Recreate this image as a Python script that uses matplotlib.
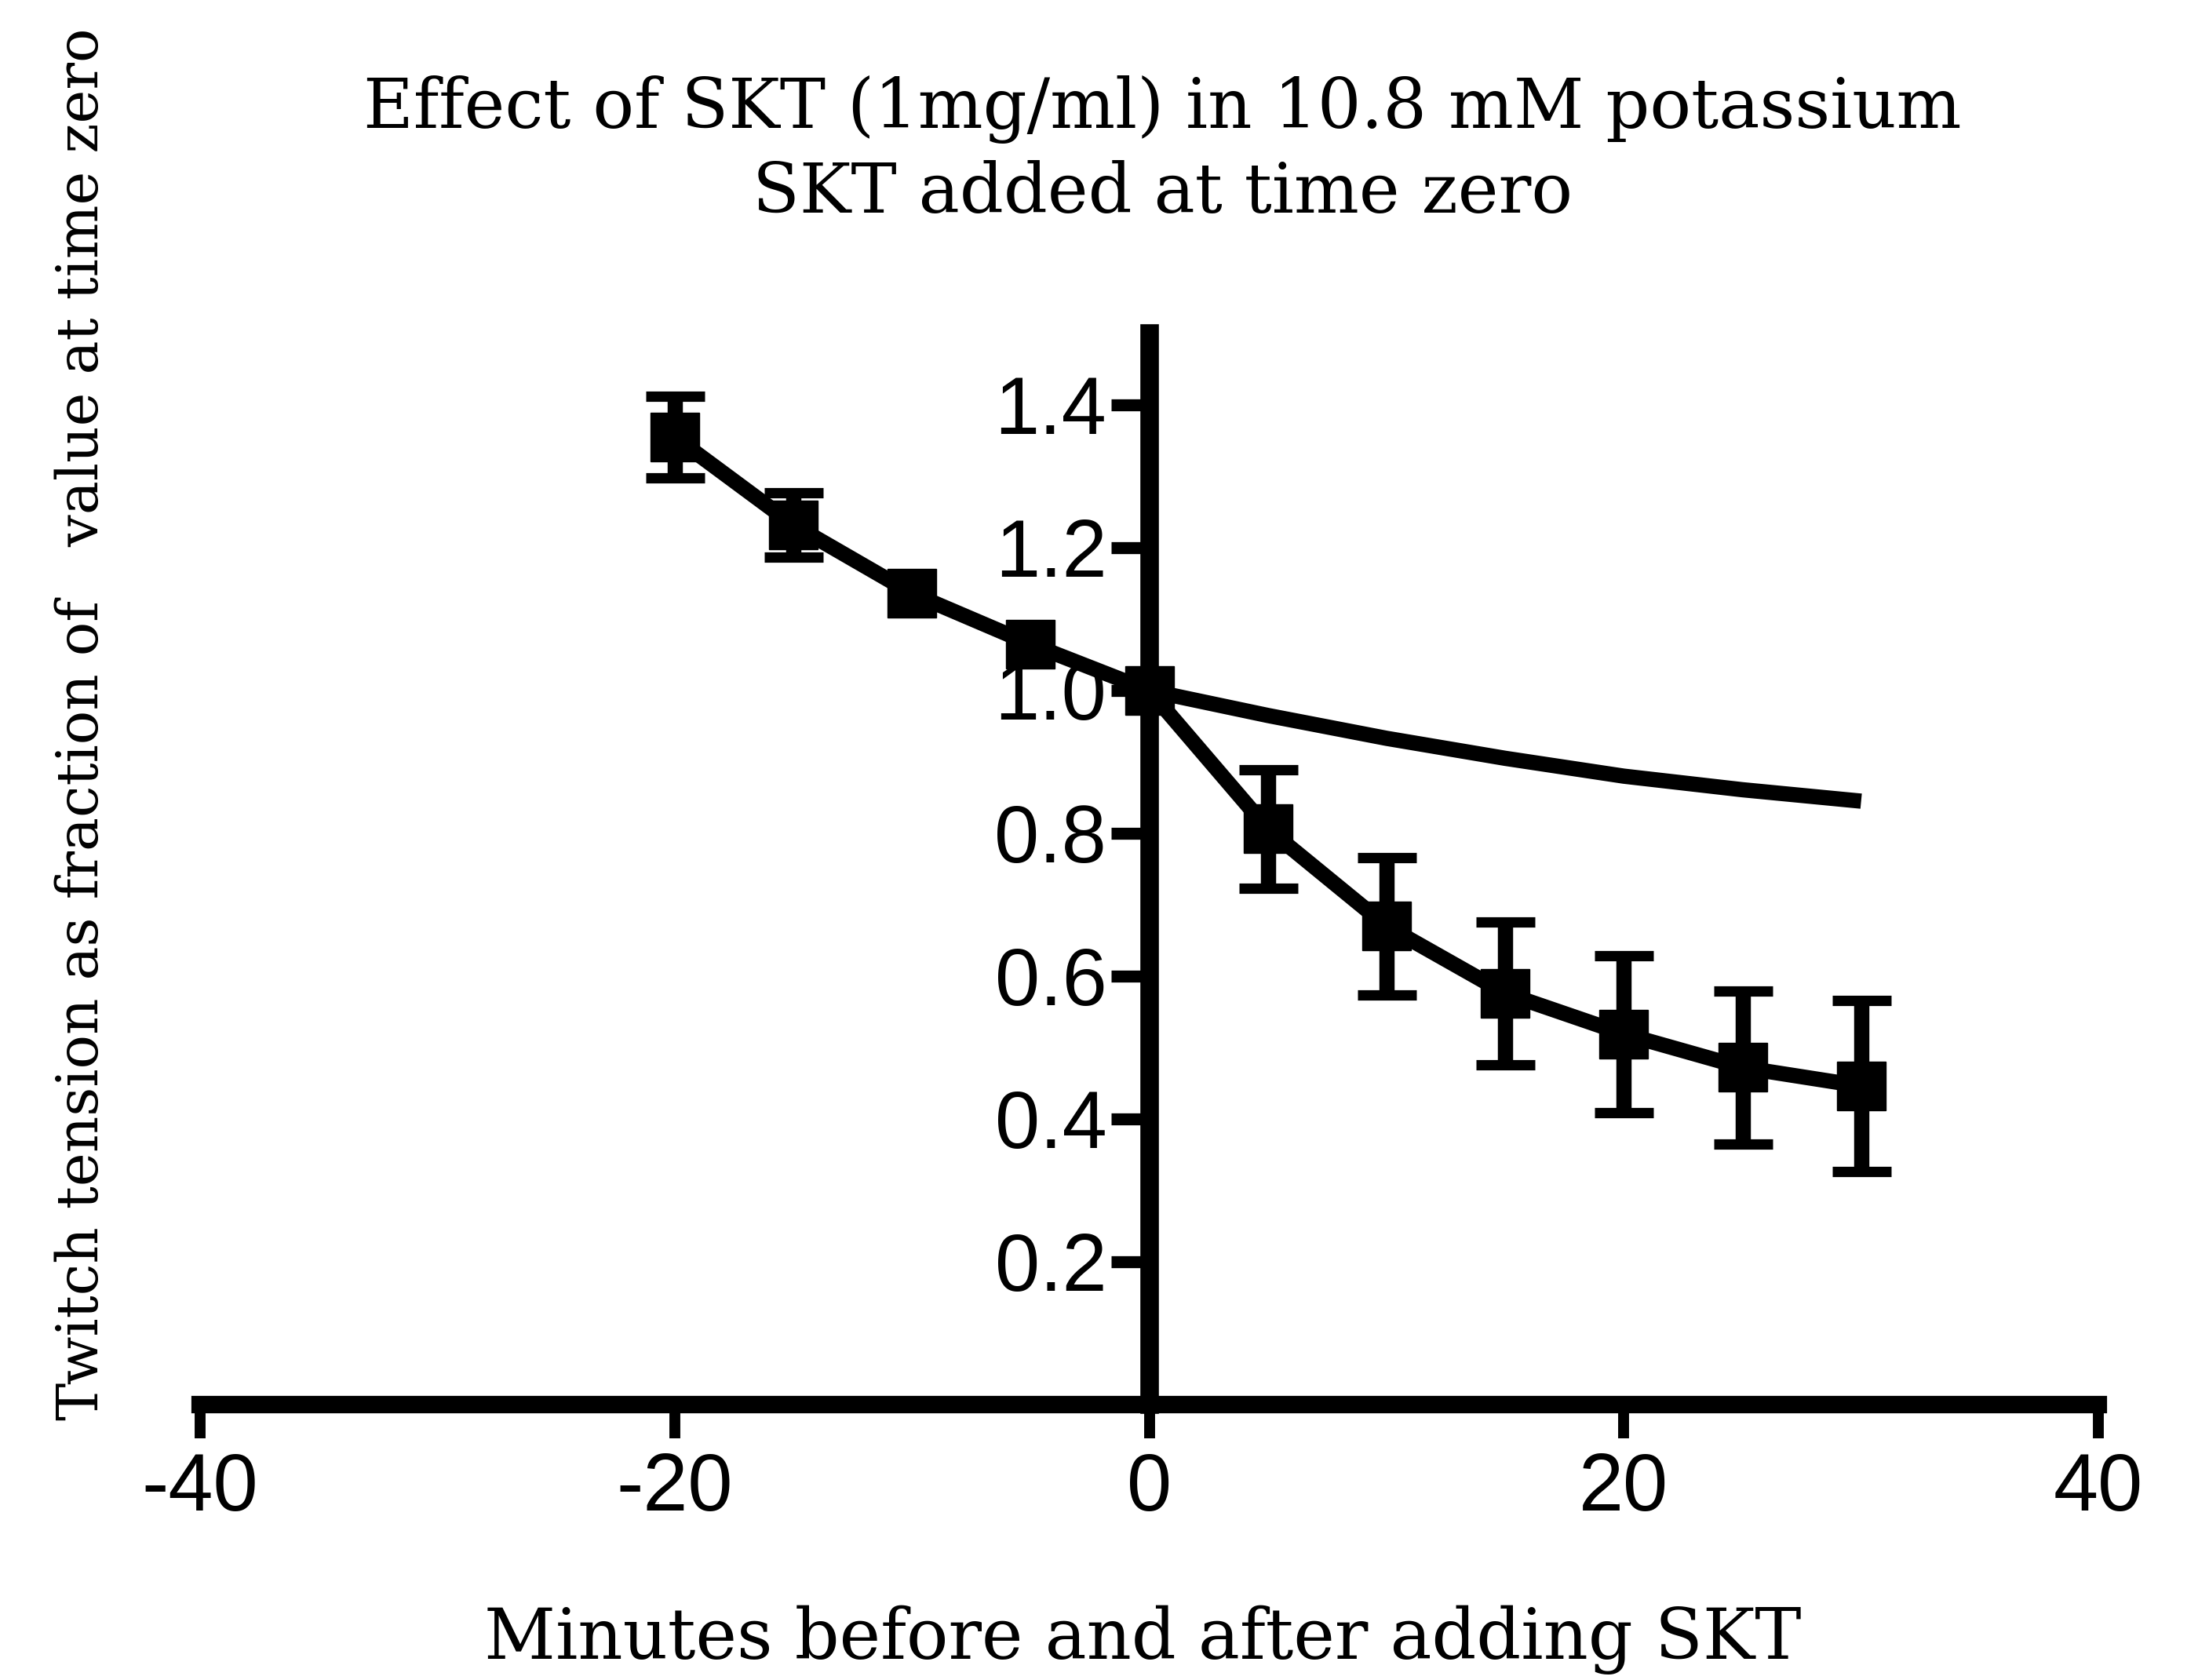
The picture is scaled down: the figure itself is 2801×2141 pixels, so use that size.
import numpy as np
import matplotlib
matplotlib.use('Agg')
import matplotlib.pyplot as plt

# measured twitch tension (fraction of value at time zero)
minutes = [-20, -15, -10, -5, 0, 5, 10, 15, 20, 25, 30]
tension = [1.355, 1.232, 1.136, 1.065, 1.0, 0.806, 0.670, 0.576, 0.519, 0.472, 0.446]
# error bars hidden behind the marker are left out (nan)
sem = [0.057, 0.045, np.nan, np.nan, np.nan, 0.083, 0.096, 0.100, 0.110, 0.107, 0.120]

# extrapolated control trend after time zero
trend_minutes = [0, 5, 10, 15, 20, 25, 30]
trend_tension = [1.0, 0.965, 0.933, 0.905, 0.880, 0.861, 0.845]

xticks = [-40, -20, 0, 20, 40]
yticks = [0.2, 0.4, 0.6, 0.8, 1.0, 1.2, 1.4]

fig = plt.figure(figsize=(28.01, 21.41), dpi=100)
ax = fig.add_axes([0.091, 0.164, 0.8637, 0.6375])

ax.plot(trend_minutes, trend_tension, color='black', lw=14, solid_capstyle='butt', zorder=4)
ax.errorbar(minutes, tension, yerr=sem, color='black', lw=14, marker='s', ms=45,
            elinewidth=14, capsize=27, capthick=9.5, zorder=5, clip_on=False)

ax.set_xlim(-40, 40)
ax.set_ylim(0, 1.5)
ax.set_xticks(xticks)
ax.set_xticklabels([str(t) for t in xticks])
ax.set_yticks(yticks)
ax.set_yticklabels(['%.1f' % t for t in yticks])

ax.spines['left'].set_position(('data', 0))
ax.spines['top'].set_visible(False)
ax.spines['right'].set_visible(False)
ax.spines['left'].set_linewidth(17)
ax.spines['bottom'].set_linewidth(16)
ax.spines['left'].set_zorder(3)

ax.tick_params(axis='y', direction='out', length=35, width=11, pad=4,
               labelsize=74, labelfontfamily='Liberation Sans')
ax.tick_params(axis='x', direction='out', length=31, width=10, pad=12,
               labelsize=74, labelfontfamily='Liberation Sans')

fig.text(0.529, 0.935, 'Effect of SKT (1mg/ml) in 10.8 mM potassium',
         ha='center', va='center', fontsize=63, family='DejaVu Serif')
fig.text(0.529, 0.885, 'SKT added at time zero',
         ha='center', va='center', fontsize=63, family='DejaVu Serif')
fig.text(0.520, 0.024, 'Minutes before and after adding SKT',
         ha='center', va='center', fontsize=64, family='DejaVu Serif')
fig.text(0.0375, 0.569, 'Twitch tension as fraction of   value at time zero',
         ha='center', va='center', rotation=90, fontsize=52, family='DejaVu Serif')

fig.savefig('out.png', dpi=100)
